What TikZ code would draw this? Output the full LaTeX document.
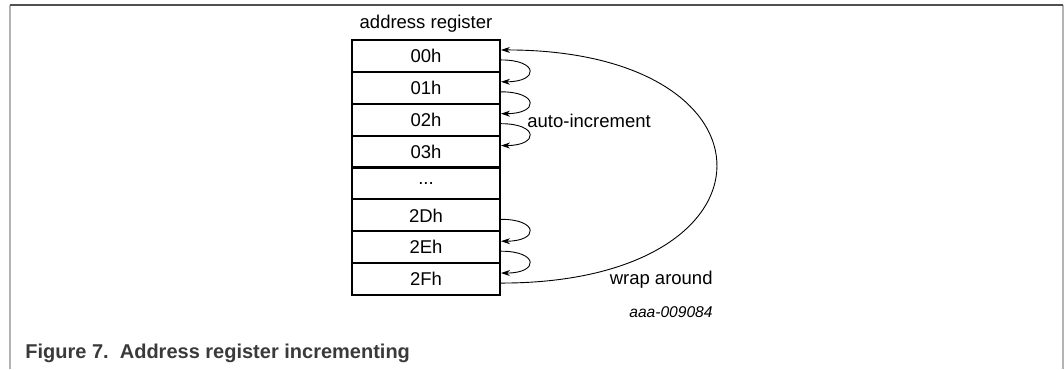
\documentclass[tikz,border=0pt]{standalone}
\usepackage{fontspec}
\setmainfont{Liberation Sans}
\usetikzlibrary{arrows.meta}
\definecolor{framedark}{HTML}{505050}
\definecolor{framelight}{HTML}{B4B4B4}
\definecolor{captiongray}{HTML}{3A3A3A}
\newcommand\mydots{...}
\tikzset{
  regrow/.style={draw, line width=1pt, minimum width=74pt, minimum height=15.94pt,
    inner sep=0pt, font=\fontsize{9.25}{11}\selectfont},
  lbl/.style={inner sep=0pt, font=\fontsize{9.25}{11}\selectfont},
  conn/.style={line width=0.45pt, -{Stealth[length=4.5pt,width=3pt]}},
}
\begin{document}
\begin{tikzpicture}[x=0.5pt,y=-0.5pt]
\useasboundingbox (0,0) rectangle (1064,369);
% frame
\draw[framelight, line width=0.8pt] (10,5) -- (10,369);
\draw[framelight, line width=0.8pt] (1063,5) -- (1063,369);
\draw[framedark, line width=1pt] (10,5) -- (1063,5);
% register
\node[lbl] (title) at (426,24) {address register};
\foreach \i/\t in {0/00h,1/01h,2/02h,3/03h,4/\mydots,5/2Dh,6/2Eh,7/2Fh}{
  \node[regrow] (r\i) at (426,{40+31.875*(\i+0.5)}) {\t};
}
% auto-increment arcs
\foreach \a/\b in {0/1,1/2,2/3,5/6,6/7}{
  \draw[conn] ([yshift=-2pt]r\a.east) .. controls +(19pt,0) and +(19pt,0) .. ([yshift=3pt]r\b.east);
}
% wrap around
\draw[conn] ([yshift=-2pt]r7.east) .. controls +(143.5pt,0) and +(143.5pt,0) .. ([yshift=3pt]r0.east);
\node[lbl, anchor=west] (auto) at (527,121) {auto-increment};
\node[lbl, anchor=east] (wrap) at (713,280) {wrap around};
\node[inner sep=0pt, anchor=east, font=\fontsize{7.8}{9}\selectfont\itshape] (id) at (713,312) {aaa-009084};
% caption
\node[inner sep=0pt, anchor=west, text=captiongray, font=\fontsize{10}{12}\selectfont\bfseries] (cap) at (25,353) {Figure 7.\ \ Address register incrementing};
\end{tikzpicture}
\end{document}
